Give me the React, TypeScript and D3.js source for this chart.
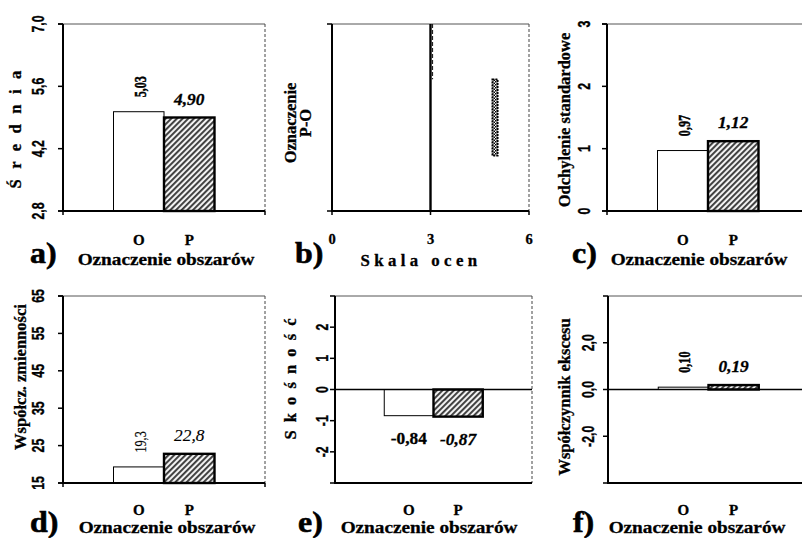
import React from "react";
import * as d3 from "d3";

// ---------- data ----------
const categories = ["O", "P"];
const meanValues = [5.03, 4.9];
const meanTicks = [2.8, 4.2, 5.6, 7.0];
const sdValues = [0.97, 1.12];
const sdTicks = [0, 1, 2, 3];
const cvValues = [19.3, 22.8];
const cvTicks = [15, 25, 35, 45, 55, 65];
const skewValues = [-0.84, -0.87];
const skewTicks = [-2, -1, 0, 1, 2];
const kurtValues = [0.1, 0.19];
const kurtTicks = [-2, 0, 2];
const scaleTicks = [0, 3, 6];
const scaleMid = 3;
const diffCategory = ["P-O"];
const diffRange = [4.9, 5.03];

const SERIF = "Liberation Serif, Times New Roman, serif";
const SANS = "Liberation Sans, Arial, sans-serif";

const loc = d3.formatLocale({
  decimal: ",",
  thousands: " ",
  grouping: [3],
  currency: ["", ""],
  minus: "-",
});

type PanelCfg = {
  left: number;
  right: number;
  top: number;
  bottom: number;
  domain: [number, number];
  ticks: number[];
  tickFmt: string;
  values: number[];
  valFmt: string;
  yTitle: string;
  yTitleLs: number;
  yTitleX: number;
  yTitleY: number;
  tickX: number;
  letter: string;
  letterX: number;
  titleX: number;
  labelWeight: string;
  zero: boolean;
  row: number;
};

const HText = (p: any) => {
  const {
    x, y, size = 14, sx = 1, weight = "bold", italic = false,
    anchor = "middle", family = SERIF, ls = 0, sw = 0.3, children,
  } = p;
  return (
    <text
      transform={`translate(${x},${y}) scale(${sx},1)`}
      style={{
        fontFamily: family,
        fontSize: size,
        fontWeight: weight as any,
        fontStyle: italic ? "italic" : "normal",
        letterSpacing: ls,
      }}
      textAnchor={anchor}
      fill="#000"
      stroke="#000"
      strokeWidth={sw}
    >
      {children}
    </text>
  );
};

const RText = (p: any) => {
  const {
    x, y, size = 14, sr = 1, sh = 1, weight = "bold", italic = false,
    family = SERIF, ls = 0, sw = 0.3, children,
  } = p;
  return (
    <text
      transform={`translate(${x},${y}) rotate(-90) scale(${sr},${sh})`}
      style={{
        fontFamily: family,
        fontSize: size,
        fontWeight: weight as any,
        fontStyle: italic ? "italic" : "normal",
        letterSpacing: ls,
      }}
      textAnchor="middle"
      dominantBaseline="central"
      fill="#000"
      stroke="#000"
      strokeWidth={sw}
    >
      {children}
    </text>
  );
};

const rowCat = [245, 515];
const rowTitle = [265, 533];
const rowLetter = [263, 532];

const BarPanel = ({ c }: { c: PanelCfg }) => {
  const y = d3.scaleLinear().domain(c.domain).range([c.bottom, c.top]);
  const w = c.right - c.left;
  const x = d3
    .scaleBand<string>()
    .domain(categories)
    .range([c.left + w / 4, c.right - w / 4])
    .padding(0);
  const base = c.zero ? 0 : c.domain[0];
  const tf = loc.format(c.tickFmt);
  const vf = loc.format(c.valFmt);
  return (
    <g>
      <rect x={c.left} y={c.top} width={w} height={c.bottom - c.top} fill="#fff" />
      {categories.map((cat, i) => {
        const v = c.values[i];
        const y0 = y(base);
        const y1 = y(v);
        const yy = Math.min(y0, y1);
        const hh = Math.abs(y0 - y1);
        return (
          <rect
            key={cat}
            x={x(cat)}
            y={yy}
            width={x.bandwidth()}
            height={hh}
            fill={i === 0 ? "#fff" : "url(#hatch)"}
            stroke="#000"
            strokeWidth={i === 0 ? 1 : 2.4}
          />
        );
      })}
      <line x1={c.left} x2={c.right} y1={c.top} y2={c.top} stroke="#555" strokeWidth={1} />
      <line x1={c.right} x2={c.right} y1={c.top} y2={c.bottom} stroke="#444" strokeWidth={1} strokeDasharray="3,2" />
      <line x1={c.left} x2={c.right} y1={c.bottom} y2={c.bottom} stroke="#000" strokeWidth={2} />
      <line x1={c.left} x2={c.left} y1={c.top} y2={c.bottom + 1} stroke="#000" strokeWidth={2} />
      {c.zero && (
        <line x1={c.left} x2={c.right} y1={y(0)} y2={y(0)} stroke="#000" strokeWidth={1.6} />
      )}
      {!c.zero && [c.left, c.right].map((xx, i) => (
        <line key={i} x1={xx} x2={xx} y1={c.bottom} y2={c.bottom + 4} stroke="#000" strokeWidth={1.5} />
      ))}
      {c.ticks.map((t) => (
        <g key={t}>
          <line x1={c.left - 5} x2={c.left} y1={y(t)} y2={y(t)} stroke="#000" strokeWidth={1.5} />
          <RText x={c.tickX} y={y(t)} size={13} sr={0.95} sh={1.3} family={SANS}>
            {tf(t)}
          </RText>
        </g>
      ))}
      <line x1={c.left - 5} x2={c.left} y1={c.top} y2={c.top} stroke="#000" strokeWidth={1.5} />
      <line x1={c.left - 5} x2={c.left} y1={c.bottom} y2={c.bottom} stroke="#000" strokeWidth={1.5} />
      {categories.map((cat, i) => {
        const v = c.values[i];
        const cx = (x(cat) as number) + x.bandwidth() / 2;
        if (v < 0) {
          return (
            <HText key={cat} x={cx} y={y(v) + 28} size={16.5} sx={1.05} italic={i === 1} weight={c.labelWeight}>
              {vf(v)}
            </HText>
          );
        }
        if (i === 0) {
          return (
            <RText key={cat} x={cx + 1} y={y(v) - 25} size={13.5} sr={0.9} sh={1.3} weight={c.labelWeight}
              sw={c.labelWeight === "bold" ? 0.4 : 0.15}>
              {vf(v)}
            </RText>
          );
        }
        return (
          <HText key={cat} x={cx} y={y(v) - 13} size={16.5} sx={1.05} italic weight={c.labelWeight}
            sw={c.labelWeight === "bold" ? 0.3 : 0.15}>
            {vf(v)}
          </HText>
        );
      })}
      {categories.map((cat) => (
        <HText key={cat} x={(x(cat) as number) + x.bandwidth() / 2} y={rowCat[c.row]} size={15}>
          {cat}
        </HText>
      ))}
      <RText x={c.yTitleX} y={c.yTitleY} size={16.5} ls={c.yTitleLs}>
        {c.yTitle}
      </RText>
      <HText x={c.titleX} y={rowTitle[c.row]} size={17.5} sx={1.1}>
        Oznaczenie obszarów
      </HText>
      <HText x={c.letterX} y={rowLetter[c.row]} size={29} sx={1.1} anchor="start" sw={0.6}>
        {c.letter}
      </HText>
    </g>
  );
};

const ScalePanel = () => {
  const left = 332, right = 529, top = 24, bottom = 211;
  const x = d3.scaleLinear().domain([0, 6]).range([left, right]);
  const yb = d3.scaleBand<string>().domain(diffCategory).range([top, bottom]).padding(0.42);
  return (
    <g>
      <rect x={left} y={top} width={right - left} height={bottom - top} fill="#fff" />
      <line x1={left} x2={right} y1={top} y2={top} stroke="#555" strokeWidth={1} />
      <line x1={right} x2={right} y1={top} y2={bottom} stroke="#444" strokeWidth={1} strokeDasharray="3,2" />
      <line x1={left} x2={right} y1={bottom} y2={bottom} stroke="#000" strokeWidth={2} />
      <line x1={left} x2={left} y1={top} y2={bottom + 1} stroke="#000" strokeWidth={2} />
      <line x1={x(scaleMid)} x2={x(scaleMid)} y1={top} y2={bottom} stroke="#000" strokeWidth={2.4} />
      <line x1={x(scaleMid) + 2} x2={x(scaleMid) + 2} y1={top} y2={yb(diffCategory[0]) as number} stroke="#222" strokeWidth={1.2} strokeDasharray="4,2" />
      <rect
        x={x(diffRange[0]) - 0.5}
        y={yb(diffCategory[0])}
        width={x(diffRange[1]) - x(diffRange[0]) + 1}
        height={yb.bandwidth()}
        fill="url(#checker)"
        stroke="#000"
        strokeWidth={1.8}
        strokeDasharray="2,1"
      />
      {[top, bottom].map((yy, i) => (
        <line key={i} x1={left - 5} x2={left} y1={yy} y2={yy} stroke="#000" strokeWidth={1.5} />
      ))}
      {scaleTicks.map((t) => (
        <g key={t}>
          <line x1={x(t)} x2={x(t)} y1={bottom} y2={bottom + 4} stroke="#000" strokeWidth={1.5} />
          <HText x={x(t)} y={244} size={14.5}>
            {String(t)}
          </HText>
        </g>
      ))}
      <RText x={290} y={123} size={16.5}>Oznaczenie</RText>
      <RText x={305} y={123} size={16.5}>P-O</RText>
      <HText x={421} y={266} size={16} sx={1.05} ls={4.2}>
        Skala ocen
      </HText>
      <HText x={295} y={263} size={29} sx={1.1} anchor="start" sw={0.6}>
        b)
      </HText>
    </g>
  );
};

const panels: PanelCfg[] = [
  {
    left: 63, right: 265, top: 24, bottom: 211, domain: [2.8, 7.0], ticks: meanTicks, tickFmt: ".1f",
    values: meanValues, valFmt: ".2f", yTitle: "Ś r e d n i a", yTitleLs: 3.2, yTitleX: 15, yTitleY: 128,
    tickX: 38, letter: "a)", letterX: 30, titleX: 166, labelWeight: "bold", zero: false, row: 0,
  },
  {
    left: 607, right: 809, top: 24, bottom: 211, domain: [0, 3], ticks: sdTicks, tickFmt: "d",
    values: sdValues, valFmt: ".2f", yTitle: "Odchylenie standardowe", yTitleLs: 0, yTitleX: 564, yTitleY: 120,
    tickX: 584, letter: "c)", letterX: 572, titleX: 699, labelWeight: "bold", zero: false, row: 0,
  },
  {
    left: 63, right: 265, top: 296, bottom: 483, domain: [15, 65], ticks: cvTicks, tickFmt: "d",
    values: cvValues, valFmt: ".1f", yTitle: "Współcz. zmienności", yTitleLs: 0, yTitleX: 20, yTitleY: 377,
    tickX: 38, letter: "d)", letterX: 30, titleX: 167, labelWeight: "normal", zero: false, row: 1,
  },
  {
    left: 335, right: 532, top: 296, bottom: 483, domain: [-3, 3], ticks: skewTicks, tickFmt: "d",
    values: skewValues, valFmt: ".2f", yTitle: "S k o ś n o ś ć", yTitleLs: 2, yTitleX: 290, yTitleY: 378,
    tickX: 322, letter: "e)", letterX: 298, titleX: 429, labelWeight: "bold", zero: true, row: 1,
  },
  {
    left: 608, right: 809, top: 296, bottom: 483, domain: [-4, 4], ticks: kurtTicks, tickFmt: ".1f",
    values: kurtValues, valFmt: ".2f", yTitle: "Współczynnik ekscesu", yTitleLs: 0, yTitleX: 564, yTitleY: 397,
    tickX: 588, letter: "f)", letterX: 573, titleX: 697, labelWeight: "bold", zero: true, row: 1,
  },
];

export default function App() {
  return (
    <svg
      width={802}
      height={538}
      style={{ position: "absolute", left: 0, top: 0, background: "#fff" }}
    >
      <defs>
        <pattern id="hatch" patternUnits="userSpaceOnUse" width={4} height={4} patternTransform="rotate(45)">
          <rect width={4} height={4} fill="#f2f2f2" />
          <rect width={1.9} height={4} fill="#3a3a3a" />
        </pattern>
        <pattern id="checker" patternUnits="userSpaceOnUse" width={3} height={3}>
          <rect width={3} height={3} fill="#fff" />
          <rect width={1.5} height={1.5} fill="#000" />
          <rect x={1.5} y={1.5} width={1.5} height={1.5} fill="#000" />
        </pattern>
      </defs>
      <rect width={802} height={538} fill="#fff" />
      {panels.map((c, i) => (
        <BarPanel key={i} c={c} />
      ))}
      <ScalePanel />
    </svg>
  );
}
